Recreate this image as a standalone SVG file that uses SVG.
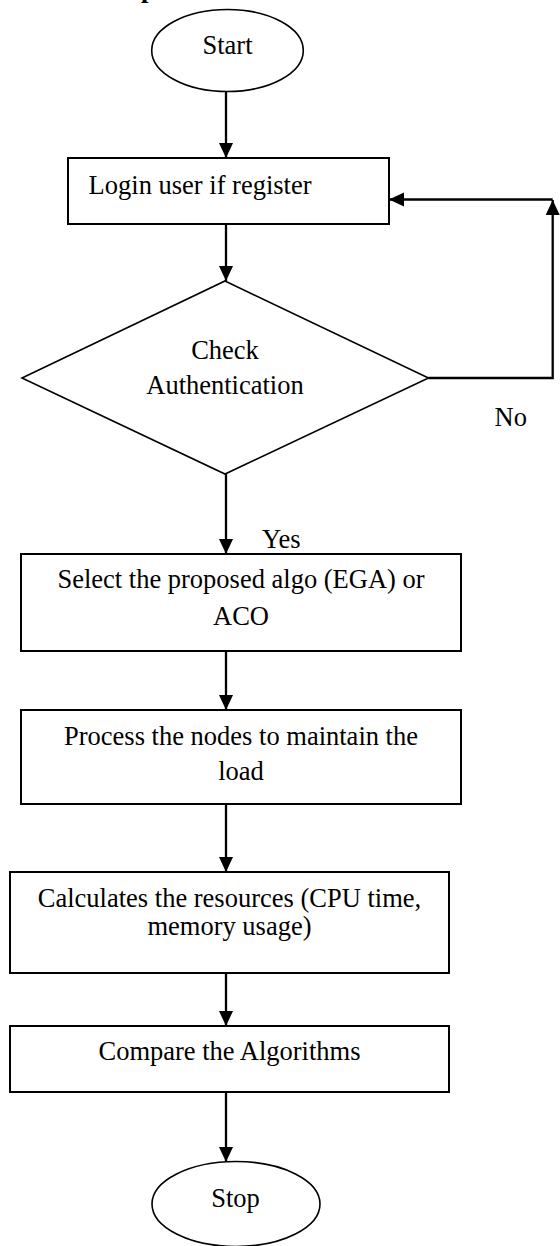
<svg xmlns="http://www.w3.org/2000/svg" width="560" height="1246" viewBox="0 0 560 1246">
  <style>
    .lbl { font-family: "Liberation Serif", "Times New Roman", serif; font-size: 26.5px; fill: #000; }
    .mid { text-anchor: middle; }
    .box { fill: #fff; stroke: #000; stroke-width: 2; }
    .term { fill: #fff; stroke: #000; stroke-width: 1.6; }
    .dec { fill: #fff; stroke: #000; stroke-width: 1.6; }
    .wire { fill: none; stroke: #000; stroke-width: 2.3; }
  </style>
  <defs>
    <marker id="arrow" markerUnits="userSpaceOnUse" markerWidth="16" markerHeight="15" refX="15" refY="7" orient="auto">
      <path d="M0,0 L15,7 L0,14 z" fill="#000"/>
    </marker>
  </defs>
  <rect width="560" height="1246" fill="#fff"/>

  <!-- heading line, cut off at the top edge -->
  <text class="lbl" x="141" y="-3" font-weight="bold">p</text>

  <g id="connectors">
    <path class="wire" d="M226,92 V158" marker-end="url(#arrow)"/>
    <path class="wire" d="M226,224 V281" marker-end="url(#arrow)"/>
    <path class="wire" d="M226,474 V554" marker-end="url(#arrow)"/>
    <path class="wire" d="M226,651 V710" marker-end="url(#arrow)"/>
    <path class="wire" d="M226,804 V872" marker-end="url(#arrow)"/>
    <path class="wire" d="M226,973 V1026" marker-end="url(#arrow)"/>
    <path class="wire" d="M226,1092 V1162" marker-end="url(#arrow)"/>
    <path class="wire" d="M428.5,378 H552.7 V200" marker-end="url(#arrow)"/>
    <path class="wire" d="M552.7,199.5 H389" marker-end="url(#arrow)"/>
    <text class="lbl" x="262" y="548">Yes</text>
    <text class="lbl" x="494.6" y="426">No</text>
  </g>

  <g id="start">
    <ellipse class="term" cx="227.5" cy="50.5" rx="75.8" ry="41"/>
    <text class="lbl mid" x="227.5" y="54.3">Start</text>
  </g>

  <g id="login">
    <rect class="box" x="68" y="158" width="321" height="66"/>
    <text class="lbl" x="88.6" y="194">Login user if register</text>
  </g>

  <g id="auth">
    <polygon class="dec" points="225,281 428.5,378 225,474 22,378"/>
    <text class="lbl mid" x="225" y="359">Check</text>
    <text class="lbl mid" x="225" y="394.3">Authentication</text>
  </g>

  <g id="select">
    <rect class="box" x="21" y="554" width="440" height="97"/>
    <text class="lbl mid" x="241" y="588.3">Select the proposed algo (EGA) or</text>
    <text class="lbl mid" x="241" y="625">ACO</text>
  </g>

  <g id="process">
    <rect class="box" x="21" y="710" width="440" height="94"/>
    <text class="lbl mid" x="241" y="745">Process the nodes to maintain the</text>
    <text class="lbl mid" x="241" y="780">load</text>
  </g>

  <g id="calc">
    <rect class="box" x="10" y="872" width="439" height="101"/>
    <text class="lbl mid" x="229.5" y="906.7">Calculates the resources (CPU time,</text>
    <text class="lbl mid" x="229.5" y="935">memory usage)</text>
  </g>

  <g id="compare">
    <rect class="box" x="10" y="1026" width="439" height="66"/>
    <text class="lbl mid" x="229.5" y="1060">Compare the Algorithms</text>
  </g>

  <g id="stop">
    <ellipse class="term" cx="236" cy="1204" rx="84" ry="42.5"/>
    <text class="lbl mid" x="235.5" y="1206.7">Stop</text>
  </g>
</svg>
